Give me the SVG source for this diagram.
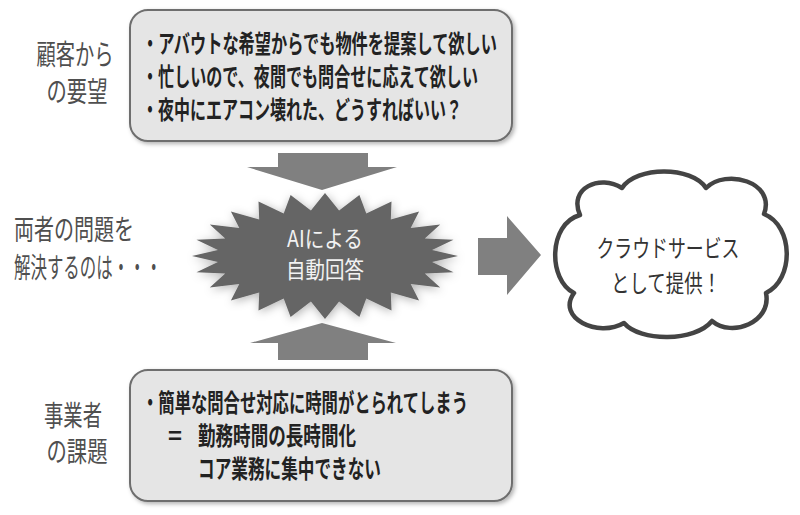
<svg xmlns="http://www.w3.org/2000/svg" width="800" height="515" viewBox="0 0 800 515">
<defs>
<style>
.lbl{font-family:"Noto Sans CJK JP","Noto Sans CJK SC",sans-serif;font-size:28px;fill:#4f4f4f;}
.box{fill:#e5e5e5;stroke:#6e6e6e;stroke-width:2;}
.bt{font-family:"Noto Sans CJK JP","Noto Sans CJK SC",sans-serif;font-size:25px;font-weight:bold;fill:#222;}
.st{font-family:"Noto Sans CJK JP","Noto Sans CJK SC",sans-serif;font-size:23px;fill:#f2f2f2;}
.ct{font-family:"Noto Sans CJK JP","Noto Sans CJK SC",sans-serif;font-size:24px;fill:#333;}
.arr{fill:#808080;}
</style>
<filter id="sh" x="-10%" y="-10%" width="130%" height="130%">
<feGaussianBlur in="SourceAlpha" stdDeviation="2"/>
<feOffset dx="2" dy="2" result="b"/>
<feFlood flood-color="#000" flood-opacity="0.3"/>
<feComposite in2="b" operator="in"/>
<feMerge><feMergeNode/><feMergeNode in="SourceGraphic"/></feMerge>
</filter>
<filter id="glow" x="-20%" y="-30%" width="140%" height="160%">
<feGaussianBlur in="SourceAlpha" stdDeviation="5"/>
<feOffset dx="1" dy="2" result="b"/>
<feFlood flood-color="#000" flood-opacity="0.3"/>
<feComposite in2="b" operator="in"/>
<feMerge><feMergeNode/><feMergeNode in="SourceGraphic"/></feMerge>
</filter>
</defs>
<rect width="800" height="515" fill="#fff"/>

<g id="connectors">
<polygon class="arr" points="278,153 368,153 368,167 397,167 322,190 247,167 278,167"/>
<polygon class="arr" points="278,360 368,360 368,343 396,343 322,323 250,343 278,343"/>
<polygon class="arr" points="478,238 507,238 507,216 541,255 507,295 507,275 478,275"/>
</g>

<g id="label-customer">
<text class="lbl" text-anchor="middle"><tspan x="75" y="65" textLength="77" lengthAdjust="spacingAndGlyphs">顧客から</tspan><tspan x="77" y="102" textLength="61" lengthAdjust="spacingAndGlyphs">の要望</tspan></text>
</g>

<g id="box-customer">
<rect class="box" x="130" y="10" width="382" height="131" rx="18" filter="url(#sh)"/>
<text class="bt"><tspan x="142" y="53" textLength="355" lengthAdjust="spacingAndGlyphs">・アバウトな希望からでも物件を提案して欲しい</tspan><tspan x="142" y="86" textLength="336" lengthAdjust="spacingAndGlyphs">・忙しいので、夜間でも問合せに応えて欲しい</tspan><tspan x="142" y="119" textLength="320" lengthAdjust="spacingAndGlyphs">・夜中にエアコン壊れた、どうすればいい？</tspan></text>
</g>

<g id="label-question">
<text class="lbl"><tspan x="14" y="240" textLength="120" lengthAdjust="spacingAndGlyphs">両者の問題を</tspan><tspan x="14" y="278" textLength="148" lengthAdjust="spacingAndGlyphs">解決するのは・・・</tspan></text>
</g>

<g id="ai-burst">
<polygon fill="#656565" filter="url(#glow)" points="458,256 432.1,262 453.5,272.3 424.8,273.6 440.2,287.5 410.7,284 419.1,300.6 390.8,292.5 391.5,310.6 366.3,298.5 359.4,316.9 339.1,301.6 325,319 310.9,301.6 290.6,316.9 283.7,298.5 258.5,310.6 259.2,292.5 230.9,300.6 239.3,284 209.8,287.5 225.2,273.6 196.5,272.3 217.9,262 192,256 217.9,250 196.5,239.7 225.2,238.4 209.8,224.5 239.3,228 230.9,211.4 259.2,219.5 258.5,201.4 283.7,213.5 290.6,195.1 310.9,210.4 325,193 339.1,210.4 359.4,195.1 366.3,213.5 391.5,201.4 390.8,219.5 419.1,211.4 410.7,228 440.2,224.5 424.8,238.4 453.5,239.7 432.1,250"/>
<text class="st" text-anchor="middle"><tspan x="325" y="247" textLength="76" lengthAdjust="spacingAndGlyphs">AIによる</tspan><tspan x="325" y="278" textLength="78" lengthAdjust="spacingAndGlyphs">自動回答</tspan></text>
</g>

<g id="cloud-service">
<path fill="#fff" stroke="#444" stroke-width="4.5" stroke-linejoin="round" d="M 580,215 C 568,188 600,174 622,188 C 636,166 692,166 706,188 C 726,168 776,182 764,214 C 794,226 794,280 766,293 C 772,322 732,338 712,321 C 695,342 640,342 624,323 C 598,338 556,318 574,293 C 548,280 548,224 580,215 Z"/>
<text class="ct" text-anchor="middle"><tspan x="668" y="257" textLength="143" lengthAdjust="spacingAndGlyphs">クラウドサービス</tspan><tspan x="666" y="292" textLength="110" lengthAdjust="spacingAndGlyphs">として提供！</tspan></text>
</g>

<g id="label-business">
<text class="lbl" text-anchor="middle"><tspan x="73" y="426" textLength="58" lengthAdjust="spacingAndGlyphs">事業者</tspan><tspan x="77" y="462" textLength="61" lengthAdjust="spacingAndGlyphs">の課題</tspan></text>
</g>

<g id="box-business">
<rect class="box" x="130" y="370" width="382" height="131" rx="18" filter="url(#sh)"/>
<text class="bt"><tspan x="142" y="412" textLength="326" lengthAdjust="spacingAndGlyphs">・簡単な問合せ対応に時間がとられてしまう</tspan><tspan x="168" y="445" textLength="14" lengthAdjust="spacingAndGlyphs">=</tspan><tspan x="198" y="445" textLength="158" lengthAdjust="spacingAndGlyphs">勤務時間の長時間化</tspan><tspan x="198" y="478" textLength="183" lengthAdjust="spacingAndGlyphs">コア業務に集中できない</tspan></text>
</g>
</svg>
